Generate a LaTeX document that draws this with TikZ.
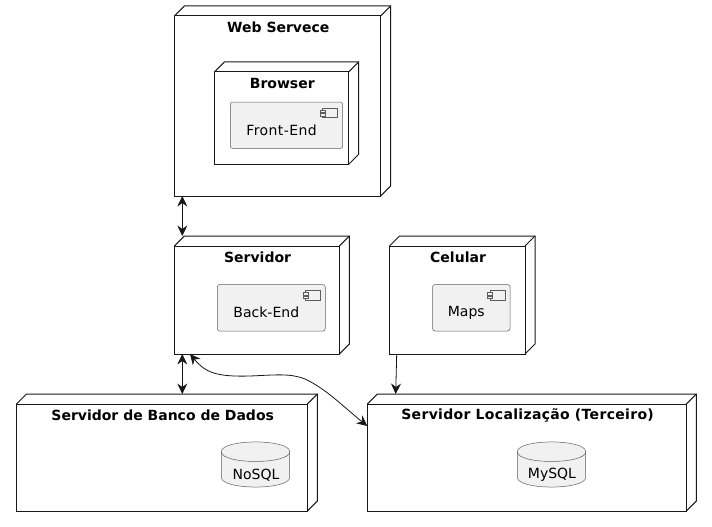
\documentclass[tikz,border=0pt]{standalone}
\usepackage{fontspec}
\setmainfont{DejaVu Sans}
\usetikzlibrary{arrows.meta,calc}
\definecolor{umlline}{HTML}{181818}
\definecolor{umlfill}{HTML}{F1F1F1}
\tikzset{
	deployrect/.style={draw=umlline, line width=1pt, anchor=north west, inner sep=0pt, outer sep=0pt},
	deploytitle/.style={font=\bfseries\fontsize{14}{16}\selectfont, inner sep=0pt, text=black},
	comprect/.style={draw=umlline!70, line width=0.5pt, fill=umlfill, rounded corners=2.5pt, anchor=north west, inner sep=0pt, outer sep=0pt},
	comptext/.style={font=\fontsize{14}{16}\selectfont, inner sep=0pt, text=black},
	compicon/.style={draw=umlline!70, line width=0.5pt, fill=umlfill},
	dbbody/.style={draw=umlline!70, line width=0.5pt, fill=umlfill},
	dbanchor/.style={anchor=north west, minimum width=68.4pt, minimum height=45.6pt, inner sep=0pt, outer sep=0pt},
	link/.style={draw=umlline, line width=0.8pt},
	tip/.style={-{Stealth[inset=3.5pt,length=10.5pt,width=10pt]}},
	dbltip/.style={{Stealth[inset=3.5pt,length=10.5pt,width=10pt]}-{Stealth[inset=3.5pt,length=10.5pt,width=10pt]}}
}
% name, left, top, width, height, title
\newcommand{\deploybox}[6]{
	\node[deployrect, minimum width=#4pt, minimum height=#5pt] (#1) at (#2,#3) {};
	\draw[draw=umlline, line width=1pt] (#1.north west) -- ++(10,-10) -- ++(#4,0) -- ++(0,#5) -- (#1.south east);
	\draw[draw=umlline, line width=1pt] (#1.north east) -- ++(10,-10);
	\node[deploytitle] (#1-title) at ($(#1.north)+(0.8,11)$) {#6};
}
% name, left, top, width, height, text
\newcommand{\compbox}[6]{
	\node[comprect, minimum width=#4pt, minimum height=#5pt] (#1) at (#2,#3) {};
	\node[comptext] (#1-text) at ($(#1.center)+(-5,5)$) {#6};
	\draw[compicon] ($(#1.north east)+(-20,6)$) rectangle ($(#1.north east)+(-5,15.5)$);
	\draw[compicon] ($(#1.north east)+(-22.5,8)$) rectangle ($(#1.north east)+(-17.5,10.5)$);
	\draw[compicon] ($(#1.north east)+(-22.5,11.5)$) rectangle ($(#1.north east)+(-17.5,14)$);
}
% name, left, top, text
\newcommand{\dbcyl}[4]{
	\node[dbanchor] (#1) at (#2,#3) {};
	\draw[dbbody] (#1.north west) ++(0,10) .. controls +(0,-13) and +(0,-13) .. ($(#1.north east)+(0,10)$)
		-- ($(#1.south east)+(0,-10)$) .. controls +(0,13) and +(0,13) .. ($(#1.south west)+(0,-10)$) -- cycle;
	\draw[dbbody, fill=none] (#1.north west) ++(0,10) .. controls +(0,13) and +(0,13) .. ($(#1.north east)+(0,10)$);
	\node[comptext] (#1-text) at ($(#1.center)+(0.5,10.5)$) {#4};
}
\begin{document}
\begin{tikzpicture}[x=1pt,y=-1pt]
	\useasboundingbox (0,0) rectangle (712,527);
	
	% Web Servece
	\deploybox{web}{174.3}{16}{206.4}{180}{Web Servece}
	\deploybox{browser}{214.3}{72}{134.4}{92.3}{Browser}
	\compbox{frontend}{230.3}{102}{112.4}{46.5}{\addfontfeature{LetterSpace=3}Front-End}
	
	% Servidor and Celular
	\deploybox{servidor}{174.3}{246}{165}{108}{Servidor}
	\compbox{backend}{217.3}{284.5}{108}{46.5}{Back-End}
	\deploybox{celular}{389.5}{246}{135.5}{108}{Celular}
	\compbox{maps}{432.5}{284.5}{77.5}{46.5}{Maps}
	
	% Bottom row
	\deploybox{banco}{16.5}{404}{290.8}{107}{Servidor de Banco de Dados}
	\deploybox{local}{367.3}{404}{319}{107}{\addfontfeature{LetterSpace=2.3}Servidor Localização (Terceiro)}
	
	% Databases
	\dbcyl{nosql}{221.3}{441.7}{NoSQL}
	\dbcyl{mysql}{517.3}{441.7}{MySQL}
	
	% Links
	\coordinate (webport) at ($(web.south west)+(8,0)$);
	\coordinate (srvtop) at ($(servidor.north west)+(8,-10)$);
	\coordinate (srvport) at ($(servidor.south west)+(8,0)$);
	\coordinate (bancotop) at ($(banco.north west)+(165.8,-10)$);
	\coordinate (srvport2) at ($(servidor.south west)+(15.7,0)$);
	\coordinate (localport) at ($(local.north west)+(0,22)$);
	\coordinate (celport) at ($(celular.south west)+(7.2,0)$);
	\coordinate (localtop) at ($(local.north west)+(28.4,-10)$);
	
	\draw[link, dbltip] (webport) -- (srvtop);
	\draw[link, dbltip] (srvport) -- (bancotop);
	\draw[link, dbltip] (srvport2) .. controls (205,372) and (215,377) .. (250,376)
		.. controls (275,375) and (290,373) .. (305,379)
		.. controls (325,388) and (345,408) .. (localport);
	\draw[link, tip] (celport) -- (localtop);
\end{tikzpicture}
\end{document}
